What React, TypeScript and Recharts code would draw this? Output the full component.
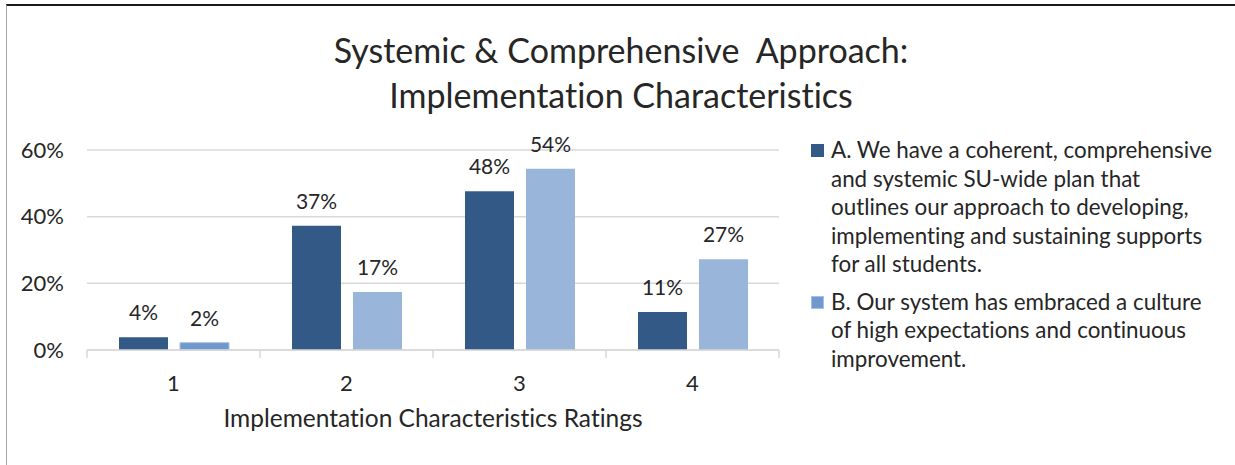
import { BarChart, Bar, XAxis, YAxis, CartesianGrid, Legend, LabelList, Label, Cell } from "recharts"

const ratings = ["1", "2", "3", "4"]
const planValues = [3.8, 37.3, 47.6, 11.4]
const cultureValues = [2.2, 17.4, 54.4, 27.2]
const yTicks = [0, 20, 40, 60]

const titleLines = ["Systemic & Comprehensive\u00a0 Approach:", "Implementation Characteristics"]
const legendA = [
  "A. We have a coherent, comprehensive",
  "and systemic SU-wide plan that",
  "outlines our approach to developing,",
  "implementing and sustaining supports",
  "for all students.",
]
const legendB = [
  "B. Our system has embraced a culture",
  "of high expectations and continuous",
  "improvement.",
]

const chartData = ratings.map((r, i) => ({ rating: r, plan: planValues[i], culture: cultureValues[i] }))

const FONT = "Lato, 'Open Sans', sans-serif"
const TEXT = "#262626"
const DARK = "#335a87"
const LIGHT = "#9ab5da"
const NOLIG = { fontVariantLigatures: "none" as const }

const PLOT_LEFT = 87
const PLOT_RIGHT = 779
const HALF_BAND = (PLOT_RIGHT - PLOT_LEFT) / ratings.length / 2

const CategoryTick = ({ x, y, payload, index }: any) => (
  <g>
    <line x1={x - HALF_BAND} x2={x - HALF_BAND} y1={y} y2={y + 8} stroke="#d9d9d9" strokeWidth={1.5} />
    {index === ratings.length - 1 && (
      <line x1={x + HALF_BAND} x2={x + HALF_BAND} y1={y} y2={y + 8} stroke="#d9d9d9" strokeWidth={1.5} />
    )}
    <text x={x} y={y + 41} textAnchor="middle" fontSize={22} fill={TEXT} fontFamily={FONT}>
      {payload.value}
    </text>
  </g>
)

const LegendBox = () => {
  const items = [
    { lines: legendA, fill: DARK, stroke: DARK },
    { lines: legendB, fill: "#7199d0", stroke: "#a9c0e0" },
  ]
  return (
    <div style={{ fontFamily: FONT, fontSize: 22.4, color: TEXT, ...NOLIG }}>
      {items.map((it, i) => (
        <div key={i} style={{ display: "flex", marginBottom: 9 }}>
          <div
            style={{
              width: 11,
              height: 11,
              background: it.fill,
              border: `1px solid ${it.stroke}`,
              marginTop: 8,
              marginRight: 7,
              flexShrink: 0,
            }}
          />
          <div>
            {it.lines.map((l, j) => (
              <div key={j} style={{ lineHeight: "28.5px", whiteSpace: "nowrap" }}>
                {l}
              </div>
            ))}
          </div>
        </div>
      ))}
    </div>
  )
}

export default function App() {
  return (
    <div style={{ position: "absolute", left: 0, top: 0, width: 1235, height: 465, background: "#fff" }}>
      <div
        style={{
          position: "absolute",
          left: 6,
          top: 4,
          right: 0,
          bottom: 0,
          borderTop: "2px solid #1a1a1a",
          borderLeft: "1px solid #a6a6a6",
        }}
      />
      <div
        style={{
          position: "absolute",
          left: 0,
          top: 27,
          width: 1242,
          textAlign: "center",
          fontFamily: FONT,
          fontSize: 34,
          lineHeight: "45px",
          color: TEXT,
          ...NOLIG,
        }}
      >
        {titleLines.map((t, i) => (
          <div key={i}>{t}</div>
        ))}
      </div>
      <div style={{ position: "absolute", left: 0, top: 0 }}>
        <BarChart
          width={1235}
          height={465}
          data={chartData}
          margin={{ top: 150, right: 46, bottom: 35, left: 0 }}
          barGap={12}
          barSize={49}
        >
          <CartesianGrid vertical={false} stroke="#d9d9d9" strokeWidth={1.5} />
          <XAxis
            dataKey="rating"
            height={80}
            axisLine={{ stroke: "#d9d9d9", strokeWidth: 1.5 }}
            tickLine={false}
            tickSize={0}
            tickMargin={0}
            tick={<CategoryTick />}
            interval={0}
          >
            <Label
              value="Implementation Characteristics Ratings"
              position="insideBottom"
              offset={3}
              style={{ fontSize: 24.5, fill: TEXT, fontFamily: FONT, ...NOLIG }}
            />
          </XAxis>
          <YAxis
            width={PLOT_LEFT}
            domain={[0, 60]}
            ticks={yTicks}
            tickFormatter={(v) => `${v}%`}
            axisLine={false}
            tickLine={false}
            tickSize={0}
            tickMargin={23}
            tick={{ fontSize: 22, fill: TEXT, fontFamily: FONT }}
          />
          <Legend
            layout="vertical"
            align="right"
            verticalAlign="top"
            content={<LegendBox />}
            wrapperStyle={{ left: 811, top: 136, width: 410 }}
          />
          <Bar dataKey="plan" fill={DARK} isAnimationActive={false}>
            <LabelList
              dataKey="plan"
              position="top"
              offset={17}
              formatter={(v: any) => `${Math.round(v)}%`}
              style={{ fontSize: 21, fill: TEXT, fontFamily: FONT }}
            />
          </Bar>
          <Bar dataKey="culture" fill={LIGHT} isAnimationActive={false}>
            {chartData.map((_, i) => (
              <Cell key={i} fill={i === 0 ? "#6f98cf" : LIGHT} stroke={i === 0 ? "#a9c0e0" : undefined} />
            ))}
            <LabelList
              dataKey="culture"
              position="top"
              offset={17}
              formatter={(v: any) => `${Math.round(v)}%`}
              style={{ fontSize: 21, fill: TEXT, fontFamily: FONT }}
            />
          </Bar>
        </BarChart>
      </div>
    </div>
  )
}
